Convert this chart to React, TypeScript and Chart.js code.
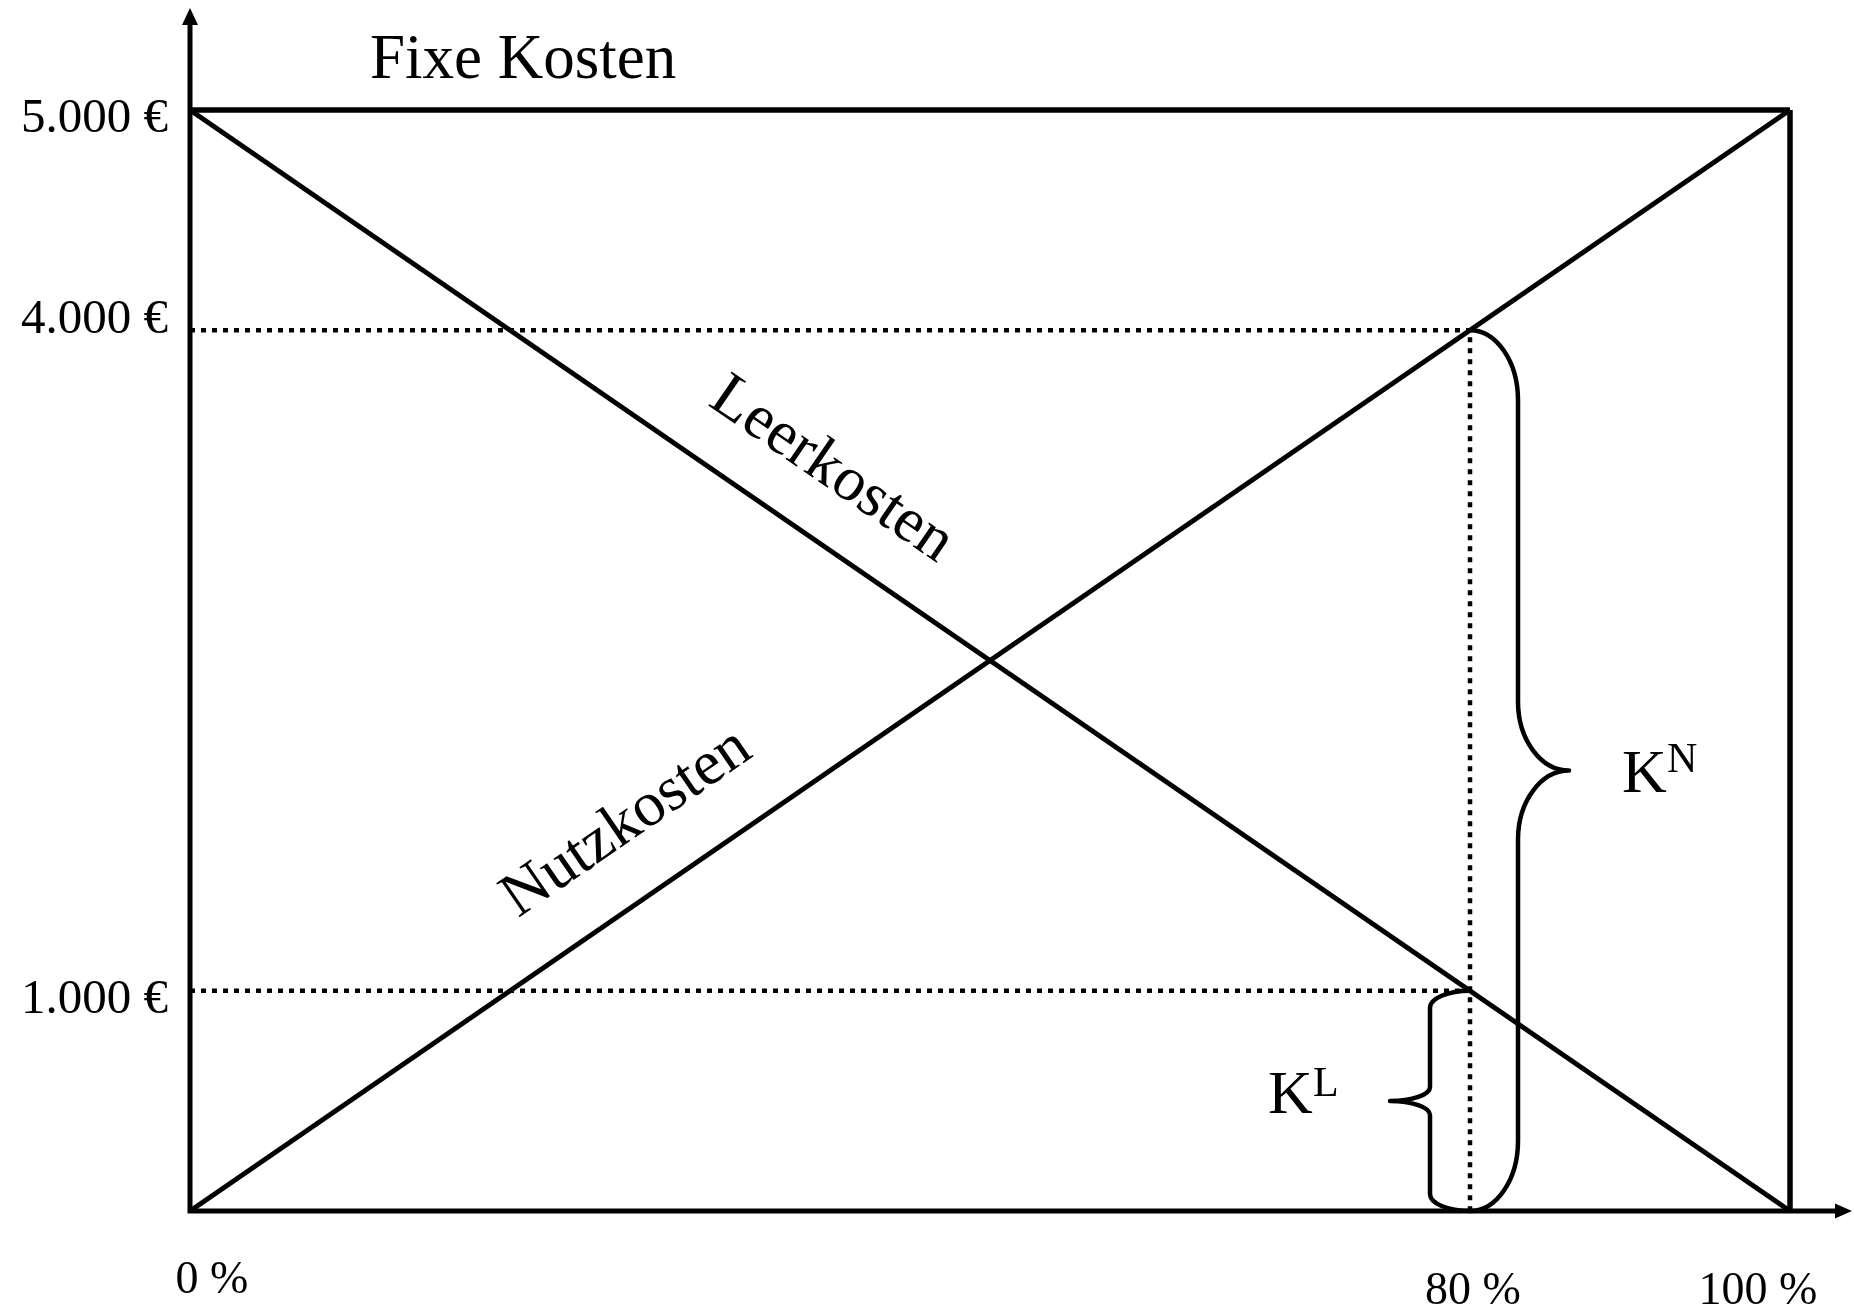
import React, { useEffect, useRef } from 'react';
import { Chart, registerables } from 'chart.js';

Chart.register(...registerables);

// ---- data ----
const utilization = [0, 100];            // Beschäftigungsgrad in %
const fixedCosts = [5000, 5000];         // Fixe Kosten
const idleCosts = [5000, 0];             // Leerkosten
const usefulCosts = [0, 5000];           // Nutzkosten
const capacityX = [100, 100];            // Kapazitätsgrenze
const capacityY = [0, 5000];
const markerUtil = 80;                   // 80 %
const markerUseful = 4000;               // K^N bei 80 %
const markerIdle = 1000;                 // K^L bei 80 %
const xTicks = [0, 80, 100];
const xTickLabels = ['0 %', '80 %', '100 %'];
const yTicks = [5000, 4000, 1000];
const yTickLabels = ['5.000 €', '4.000 €', '1.000 €'];

const FONT = '"Liberation Serif", "Times New Roman", serif';

const pts = (xs: number[], ys: number[]) => xs.map((x, i) => ({ x, y: ys[i] }));

function brace(ctx: CanvasRenderingContext2D, x0: number, yTop: number, yBot: number, s: number, t: number, hEnd: number, hTip: number) {
  const k = 0.552;
  const ym = (yTop + yBot) / 2;
  ctx.beginPath();
  ctx.moveTo(x0, yTop);
  ctx.bezierCurveTo(x0 + k * s, yTop, x0 + s, yTop + hEnd - k * hEnd, x0 + s, yTop + hEnd);
  ctx.lineTo(x0 + s, ym - hTip);
  ctx.bezierCurveTo(x0 + s, ym - hTip + k * hTip, x0 + t - k * (t - s), ym, x0 + t, ym);
  ctx.bezierCurveTo(x0 + t - k * (t - s), ym, x0 + s, ym + hTip - k * hTip, x0 + s, ym + hTip);
  ctx.lineTo(x0 + s, yBot - hEnd);
  ctx.bezierCurveTo(x0 + s, yBot - hEnd + k * hEnd, x0 + k * s, yBot, x0, yBot);
  ctx.stroke();
}

const annotations = {
  id: 'annotations',
  afterDraw(chart: any) {
    const { ctx, chartArea: a, scales } = chart;
    const x = scales.x;
    const y = scales.y;
    ctx.save();
    ctx.fillStyle = '#000';
    ctx.strokeStyle = '#000';
    ctx.lineCap = 'butt';

    // axes with arrows
    ctx.lineWidth = 5;
    ctx.beginPath();
    ctx.moveTo(a.left, a.bottom + 2.5);
    ctx.lineTo(a.left, 22);
    ctx.moveTo(a.left - 2.5, a.bottom);
    ctx.lineTo(1837, a.bottom);
    ctx.stroke();
    ctx.beginPath();
    ctx.moveTo(a.left, 8);
    ctx.lineTo(a.left - 8, 25);
    ctx.lineTo(a.left + 8, 25);
    ctx.closePath();
    ctx.fill();
    ctx.beginPath();
    ctx.moveTo(1852, a.bottom);
    ctx.lineTo(1835, a.bottom - 7.5);
    ctx.lineTo(1835, a.bottom + 7.5);
    ctx.closePath();
    ctx.fill();

    // y tick labels
    ctx.font = `49px ${FONT}`;
    ctx.textAlign = 'right';
    ctx.textBaseline = 'alphabetic';
    const yOff = [22, 3, 22];
    yTicks.forEach((v, i) => {
      ctx.fillText(yTickLabels[i], a.left - 22, y.getPixelForValue(v) + yOff[i]);
    });

    // x tick labels
    ctx.font = `46px ${FONT}`;
    ctx.textAlign = 'center';
    const xOffX = [22, 3, -32];
    const xOffY = [82, 93, 93];
    xTicks.forEach((v, i) => {
      ctx.fillText(xTickLabels[i], x.getPixelForValue(v) + xOffX[i], a.bottom + xOffY[i]);
    });

    // Fixe Kosten
    ctx.font = `63px ${FONT}`;
    ctx.textAlign = 'left';
    ctx.fillText('Fixe Kosten', x.getPixelForValue(11.25), y.getPixelForValue(5000) - 32);

    // rotated labels
    ctx.font = `63px ${FONT}`;
    const ang = Math.atan2(y.getPixelForValue(0) - y.getPixelForValue(5000), x.getPixelForValue(100) - x.getPixelForValue(0));
    const lx = 32.3;
    ctx.save();
    ctx.translate(x.getPixelForValue(lx), y.getPixelForValue(5000 - lx * 50) - 61);
    ctx.rotate(ang);
    ctx.fillText('Leerkosten', 0, 0);
    ctx.restore();
    const nx = 20.5;
    ctx.save();
    ctx.translate(x.getPixelForValue(nx), y.getPixelForValue(nx * 50) - 67);
    ctx.rotate(-ang);
    ctx.fillText('Nutzkosten', 0, 0);
    ctx.restore();

    // braces
    const xm = x.getPixelForValue(markerUtil);
    const yN = y.getPixelForValue(markerUseful);
    const yL = y.getPixelForValue(markerIdle);
    const y0 = y.getPixelForValue(0);
    ctx.lineWidth = 4.5;
    ctx.lineJoin = 'round';
    brace(ctx, xm, yN, y0, 48, 99, 70, 69);
    brace(ctx, xm, yL, y0, -40, -80, 17, 14);

    // K^N and K^L
    const midN = (yN + y0) / 2;
    const midL = (yL + y0) / 2;
    ctx.font = `62px ${FONT}`;
    ctx.fillText('K', xm + 152, midN + 21.5);
    ctx.fillText('K', xm - 202, midL + 12);
    ctx.font = `42px ${FONT}`;
    ctx.fillText('N', xm + 197, midN + 1.5);
    ctx.fillText('L', xm - 157, midL - 5);

    ctx.restore();
  },
};

export default function App() {
  const ref = useRef<HTMLCanvasElement | null>(null);
  useEffect(() => {
    if (!ref.current) return;
    const dotted = { borderColor: '#000', borderWidth: 4.5, borderDash: [5, 6], pointRadius: 0, fill: false, clip: false as any, tension: 0 };
    const solid = { borderColor: '#000', borderWidth: 5, pointRadius: 0, fill: false, clip: false as any, tension: 0 };
    const chart = new Chart(ref.current, {
      type: 'line',
      data: {
        datasets: [
          { ...dotted, label: 'K^N Hilfslinie', data: pts([0, markerUtil, markerUtil], [markerUseful, markerUseful, 0]) },
          { ...dotted, label: 'K^L Hilfslinie', data: pts([0, markerUtil], [markerIdle, markerIdle]) },
          { ...solid, borderWidth: 5.5, label: 'Fixe Kosten', data: pts(utilization, fixedCosts) },
          { ...solid, label: 'Leerkosten', data: pts(utilization, idleCosts) },
          { ...solid, label: 'Nutzkosten', data: pts(utilization, usefulCosts) },
          { ...solid, borderWidth: 5.5, label: 'Kapazität', data: pts(capacityX, capacityY) },
        ],
      },
      options: {
        animation: false,
        responsive: false,
        devicePixelRatio: 1,
        layout: { padding: { left: 190, right: 64, top: 110, bottom: 98 } },
        plugins: { legend: { display: false }, tooltip: { enabled: false }, title: { display: false } },
        scales: {
          x: { type: 'linear', min: 0, max: 100, display: false },
          y: { type: 'linear', min: 0, max: 5000, display: false },
        },
        events: [],
      },
      plugins: [annotations],
    });
    return () => chart.destroy();
  }, []);
  return (
    <div style={{ position: 'absolute', left: 0, top: 0, width: 1854, height: 1309, background: '#fff' }}>
      <canvas ref={ref} width={1854} height={1309} style={{ display: 'block', width: 1854, height: 1309 }} />
    </div>
  );
}
